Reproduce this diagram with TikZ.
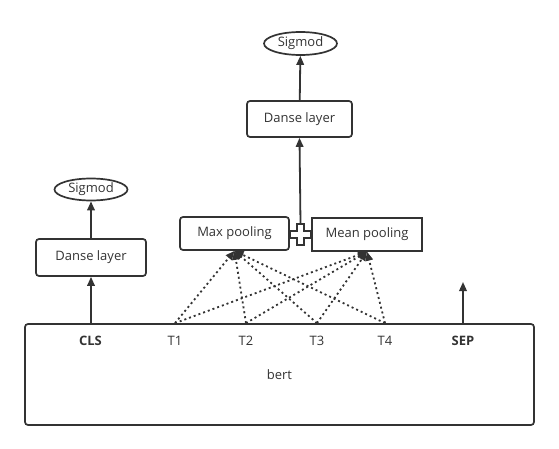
\documentclass[tikz,border=0pt]{standalone}
\usepackage{fontspec}
\setmainfont{Open Sans}
\usetikzlibrary{arrows.meta,shapes.geometric}
\definecolor{ink}{HTML}{333333}
\begin{document}
\begin{tikzpicture}[x=1pt,y=-1pt,
    font=\fontsize{13}{15}\selectfont, text=ink,
    box/.style={draw=ink,line width=1.7pt,rounded corners=3pt,minimum width=109pt,minimum height=34pt,inner sep=0pt},
    oval/.style={ellipse,draw=ink,line width=1.7pt,minimum width=73pt,minimum height=23pt,inner sep=0pt},
    arr/.style={draw=ink,line width=1.8pt,-{Triangle[length=9pt,width=7.5pt]}},
    dots/.style={draw=ink,line width=1.8pt,dash pattern=on 2pt off 3pt,-{Triangle[length=9pt,width=7.5pt]}}]
        \useasboundingbox (0,0) rectangle (559,449);
        \node[box,minimum width=509pt,minimum height=101pt] (bert) at (279.5,374.5) {bert};
        \node[font=\fontsize{13}{15}\selectfont\bfseries] (CLS) at (90.5,341) {CLS};
        \node (T1) at (175,341) {T1};
        \node (T2) at (246,341) {T2};
        \node (T3) at (317,341) {T3};
        \node (T4) at (385,341) {T4};
        \node[font=\fontsize{13}{15}\selectfont\bfseries] (SEP) at (463,341) {SEP};
        \node[box,minimum width=110pt,minimum height=37pt] (danse1) at (91,257.5) {Danse layer};
        \node[oval,minimum height=22pt] (sig1) at (91,189.5) {Sigmod};
        \node[box,minimum width=105pt,minimum height=36pt] (danse2) at (299.5,119) {Danse layer};
        \node[oval] (sig2) at (300.5,43.5) {Sigmod};
        \node[box,minimum height=33pt] (maxp) at (234.5,233.5) {Max pooling};
        \node[box,rounded corners=0pt,line width=1.4pt,minimum width=110pt,minimum height=33pt] (meanp) at (367,234.5) {Mean pooling};
        \node[minimum size=21pt,inner sep=0pt] (plus) at (300.5,234.5) {};
        \draw[ink,line width=1.3pt,fill=white,shift={(plus.center)}] (-3.5,-10.5) -- (3.5,-10.5) -- (3.5,-3.5) -- (10.5,-3.5) -- (10.5,3.5) -- (3.5,3.5) -- (3.5,10.5) -- (-3.5,10.5) -- (-3.5,3.5) -- (-10.5,3.5) -- (-10.5,-3.5) -- (-3.5,-3.5) -- cycle;
        \draw[arr] (danse1.south |- bert.north) -- (danse1.south);
        \draw[arr] (danse1) -- (sig1);
        \draw[arr] (plus.north) -- (danse2.south);
        \draw[arr] (danse2) -- (sig2);
        \coordinate (septop) at (SEP |- bert.north);
        \coordinate (sepend) at (463,282);
        \draw[arr] (septop) -- (sepend);
        \foreach \t in {1,...,4} {
            \coordinate (t\t top) at (T\t |- bert.north);
            \draw[dots] (t\t top) -- (maxp.south);
            \draw[dots] (t\t top) -- (meanp.south);
        }
    \end{tikzpicture}
\end{document}
